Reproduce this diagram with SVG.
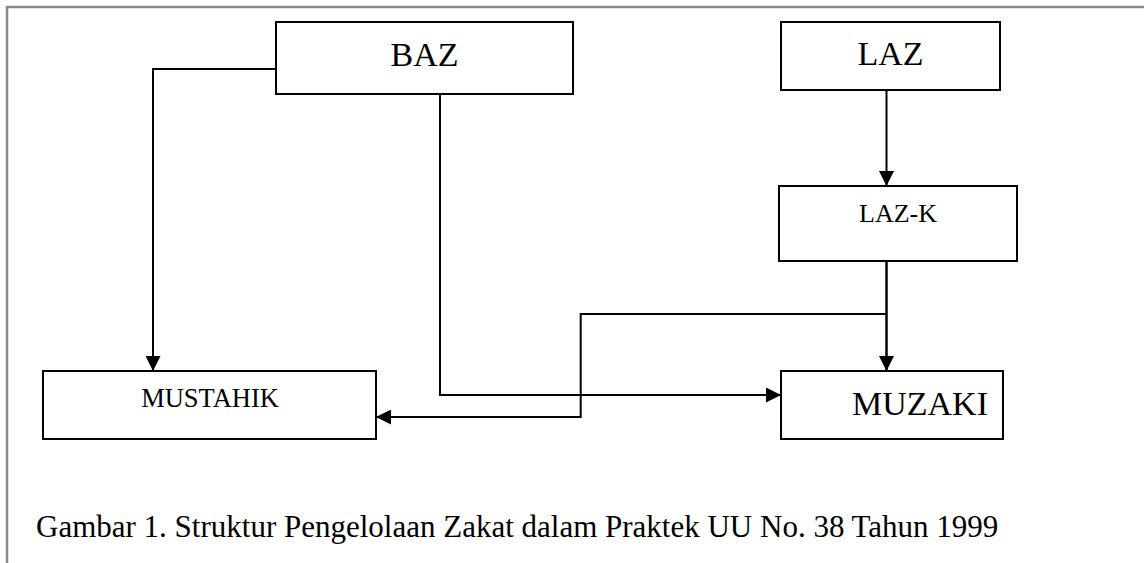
<svg xmlns="http://www.w3.org/2000/svg" width="1144" height="563" viewBox="0 0 1144 563">
<defs>
<marker id="ah" markerUnits="userSpaceOnUse" markerWidth="15" markerHeight="15" refX="15" refY="7.5" orient="auto">
<path d="M0,0 L15,7.5 L0,15 z" fill="#000"/>
</marker>
<style>
.box{fill:#fff;stroke:#000;stroke-width:2}
.ln{fill:none;stroke:#000;stroke-width:2}
.la{fill:none;stroke:#000;stroke-width:2.5}
.t{font-family:"Liberation Serif","Times New Roman",serif;fill:#000;text-anchor:middle}
.frame{fill:none;stroke:#888;stroke-width:2.5}
</style>
</defs>
<rect width="1144" height="563" fill="#fff"/>
<path class="frame" d="M7,563 V7 H1144"/>
<g id="connectors">
<path class="ln" d="M276,69 H153 V371" marker-end="url(#ah)"/>
<path class="ln" d="M440,94 V395 H781" marker-end="url(#ah)"/>
<path class="ln" d="M886.5,90 V186" marker-end="url(#ah)"/>
<path class="la" d="M886.5,261 V371" marker-end="url(#ah)"/>
<path class="ln" d="M886.5,314 H580.7 V417 H376" marker-end="url(#ah)"/>
</g>
<g id="baz">
<rect class="box" x="276" y="22" width="297" height="72"/>
<text class="t" x="424.5" y="66" font-size="34">BAZ</text>
</g>
<g id="laz">
<rect class="box" x="781" y="22" width="219" height="68"/>
<text class="t" x="890.5" y="65" font-size="34">LAZ</text>
</g>
<g id="lazk">
<rect class="box" x="779" y="186" width="238" height="75"/>
<text class="t" x="898" y="222" font-size="26">LAZ-K</text>
</g>
<g id="mustahik">
<rect class="box" x="43" y="371" width="333" height="68"/>
<text class="t" x="210" y="407" font-size="26.5">MUSTAHIK</text>
</g>
<g id="muzaki">
<rect class="box" x="781" y="371" width="222" height="68"/>
<text class="t" x="920" y="415" font-size="34">MUZAKI</text>
</g>
<g id="caption">
<text x="36" y="537" font-family="'Liberation Serif','Times New Roman',serif" font-size="31" fill="#000">Gambar 1. Struktur Pengelolaan Zakat dalam Praktek UU No. 38 Tahun 1999</text>
</g>
</svg>
